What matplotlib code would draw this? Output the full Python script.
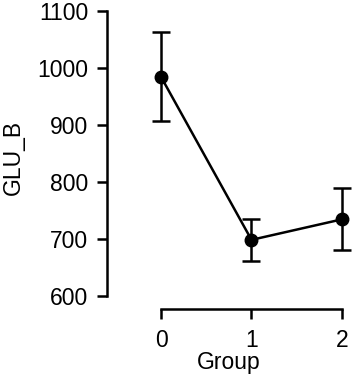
import matplotlib
matplotlib.use("Agg")
import matplotlib.pyplot as plt

groups = [0, 1, 2]
means = [984, 698, 734]
upper = [1062, 735, 789]
lower = [907, 661, 681]
yticks = [600, 700, 800, 900, 1000, 1100]

plt.rcParams['font.family'] = ['Liberation Sans', 'DejaVu Sans']

W, H = 354, 375
fig = plt.figure(figsize=(W/100, H/100), dpi=100)
ax = fig.add_axes([107/W, (H-309)/H, 244/W, 304/H])

yerr = [[m - l for m, l in zip(means, lower)], [u - m for u, m in zip(upper, means)]]
ax.errorbar(groups, means, yerr=yerr, color='black', lw=1.8, marker='o', ms=9,
            capsize=6.5, capthick=1.8, elinewidth=1.8, clip_on=False)

ax.set_xlim(-0.597, 2.1)
ax.set_ylim(576.7, 1110)
ax.set_xticks(groups)
ax.set_yticks(yticks)
ax.spines['top'].set_visible(False)
ax.spines['right'].set_visible(False)
ax.spines['left'].set_bounds(600, 1100)
ax.spines['bottom'].set_bounds(0, 2)
for s in ['left', 'bottom']:
    ax.spines[s].set_linewidth(1.8)
ax.tick_params(axis='both', length=7.5, width=1.8, labelsize=16.5)
ax.tick_params(axis='y', pad=6)
ax.tick_params(axis='x', pad=7)
ax.set_xlabel('Group', fontsize=16.5, labelpad=-1)
ax.set_ylabel('GLU_B', fontsize=16.5, labelpad=9)

fig.savefig('out.png', dpi=100)
